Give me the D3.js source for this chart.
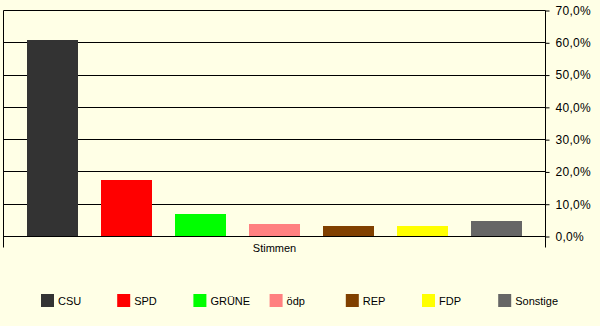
<!doctype html>
<html lang="de">
<head>
<meta charset="UTF-8" />
<title>Stimmen</title>
<script src="https://cdn.jsdelivr.net/npm/d3@7"></script>
<style>
  body { margin: 0; background: #ffffe6; }
  svg text { font-family: "Liberation Sans", Arial, sans-serif; font-size: 11px; fill: #000; }
</style>
</head>
<body>
<svg id="chart" width="600" height="326"></svg>
<script>
  // Werte (in %)
  const parteien = ["CSU", "SPD", "GRÜNE", "ödp", "REP", "FDP", "Sonstige"];
  const stimmen = [61.0, 17.6, 6.9, 4.0, 3.1, 3.1, 4.7];
  const farben = ["#333333", "#ff0000", "#00ff00", "#ff8080", "#804000", "#ffff00", "#666666"];
  const yTicks = [0, 10, 20, 30, 40, 50, 60, 70];
  const kategorie = "Stimmen";

  const svg = d3.select("#chart");
  const pLeft = 3.5, pRight = 545.5, pTop = 10.5, pBottom = 236.5;

  const x = d3.scaleBand().domain(parteien).range([pLeft, pRight])
      .paddingInner(0.31).paddingOuter(0.325);
  const y = d3.scaleLinear().domain([0, 70]).range([pBottom, pTop]);

  // Gitternetz
  svg.append("g").selectAll("line").data(yTicks).join("line")
      .attr("x1", pLeft).attr("x2", pRight)
      .attr("y1", d => Math.floor(y(d)) + 0.5).attr("y2", d => Math.floor(y(d)) + 0.5)
      .attr("stroke", "#000");

  // Balken
  svg.append("g").selectAll("rect").data(parteien).join("rect")
      .attr("x", d => Math.round(x(d)))
      .attr("width", Math.round(x.bandwidth()))
      .attr("y", (d, i) => Math.round(y(stimmen[i])))
      .attr("height", (d, i) => Math.floor(y(0)) - Math.round(y(stimmen[i])))
      .attr("fill", (d, i) => farben[i]);

  // Rubrikenachse: Begrenzungsstriche
  svg.append("g").selectAll("line").data([pLeft, pRight]).join("line")
      .attr("x1", d => d).attr("x2", d => d)
      .attr("y1", pTop).attr("y2", pBottom + 11)
      .attr("stroke", "#000");

  svg.append("text").attr("x", (pLeft + pRight) / 2).attr("y", 252)
      .attr("text-anchor", "middle").text(kategorie);

  // Größenachse rechts
  const yAxis = d3.axisRight(y).tickValues(yTicks).tickSize(4).tickPadding(6)
      .tickFormat(d => d3.format(".1f")(d).replace(".", ",") + "%");
  const ax = svg.append("g").attr("transform", `translate(${pRight},0)`).call(yAxis);
  ax.select(".domain").remove();
  ax.selectAll("line").attr("stroke", "#000");
  ax.selectAll("text").style("font-size", "12px").attr("letter-spacing", "0.3px");

  // Legende
  const legend = svg.append("g").selectAll("g").data(parteien).join("g")
      .attr("transform", (d, i) => `translate(${41 + i * 76.2},294)`);
  legend.append("rect").attr("width", 13).attr("height", 13)
      .attr("fill", (d, i) => farben[i]);
  legend.append("text").attr("x", 17).attr("y", 11).text(d => d);
</script>
</body>
</html>
